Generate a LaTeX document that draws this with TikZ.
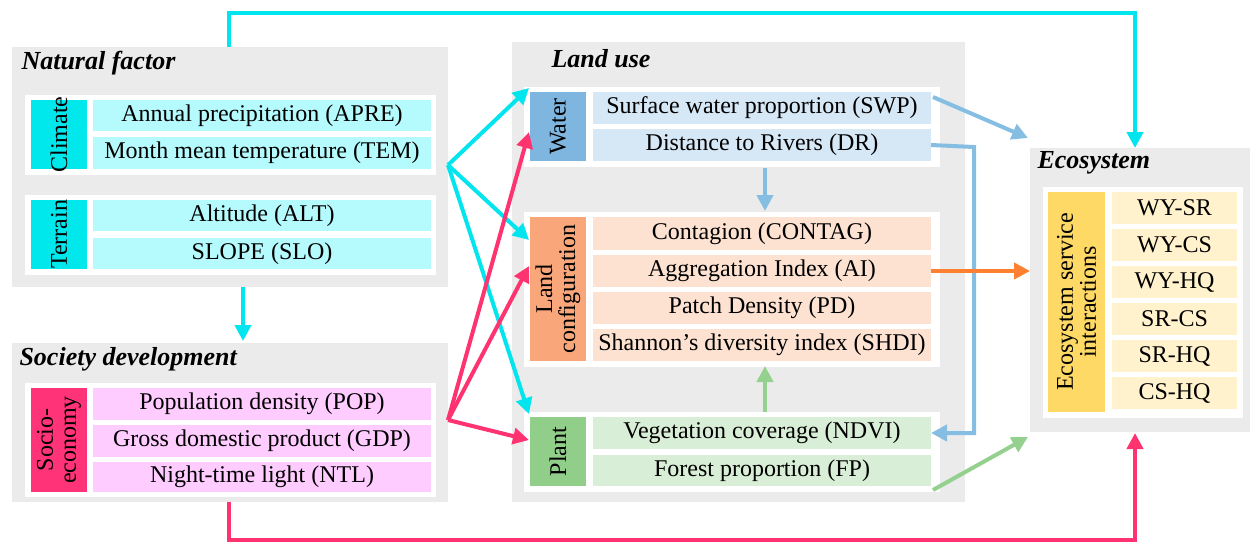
\documentclass[tikz,border=0pt]{standalone}
\usepackage{fontspec}
\setmainfont{Liberation Serif}
\usetikzlibrary{arrows.meta}
\definecolor{gbg}{HTML}{EBEBEB}
\definecolor{cyl}{HTML}{00E8EC}
\definecolor{cyr}{HTML}{B5FAFC}
\definecolor{pkl}{HTML}{FF3378}
\definecolor{pkr}{HTML}{FFCCFF}
\definecolor{bll}{HTML}{7EB6E0}
\definecolor{blr}{HTML}{D6E7F6}
\definecolor{orl}{HTML}{F9A77A}
\definecolor{orr}{HTML}{FDE2D2}
\definecolor{grl}{HTML}{90CE8A}
\definecolor{grr}{HTML}{D9EED6}
\definecolor{yel}{HTML}{FFD966}
\definecolor{yer}{HTML}{FFF2CC}
\definecolor{arcy}{HTML}{00E5EE}
\definecolor{arpk}{HTML}{FF3370}
\definecolor{arbl}{HTML}{86BDE3}
\definecolor{argr}{HTML}{94D08E}
\definecolor{aror}{HTML}{FF8030}
\newcommand\bx[7]{\pgfmathsetmacro\ww{#5-#3}\pgfmathsetmacro\hh{#6-#4}%
\node[#2,minimum width=\ww pt,minimum height=\hh pt,anchor=north west] (#1) at (#3,#4) {#7};}
\begin{document}
\begin{tikzpicture}[x=1pt,y=-1pt,
 box/.style={fill=#1,inner sep=0pt,outer sep=0pt,font=\fontsize{24}{24}\selectfont},
 rt/.style={rotate=90,font=\fontsize{24}{23}\selectfont,align=center},
 ttl/.style={anchor=west,font=\fontsize{26}{28}\selectfont\bfseries\itshape},
 ar/.style={draw=#1,line width=4pt,-{Triangle[length=16pt,width=16pt]}}]
\useasboundingbox (0,0) rectangle (1258,551);
% gray panels
\bx{NF}{box=gbg}{12}{47}{448}{287}{}
\bx{SD}{box=gbg}{12}{343}{448}{502}{}
\bx{LU}{box=gbg}{512}{42}{965}{502}{}
\bx{ES}{box=gbg}{1030}{148}{1250}{432}{}
\node[ttl] (t1) at (18,63) {Natural factor};
\node[ttl] (t2) at (16,359) {Society development};
\node[ttl] (t3) at (548,59) {Land use};
\node[ttl] (t4) at (1034,163) {Ecosystem};
% white groups
\bx{gC}{box=white}{25}{95}{436}{175}{}
\bx{gT}{box=white}{25}{195}{436}{275}{}
\bx{gS}{box=white}{25}{383}{436}{497}{}
\bx{gW}{box=white}{524}{87}{940}{167}{}
\bx{gL}{box=white}{524}{212}{940}{367}{}
\bx{gP}{box=white}{524}{412}{940}{492}{}
\bx{gE}{box=white}{1043}{187}{1243}{418}{}
% labels
\bx{lC}{box=cyl}{31}{100}{87}{169}{}
\node[rt] at (lC) {Climate};
\bx{lT}{box=cyl}{31}{200}{87}{269}{}
\node[rt] at (lT) {Terrain};
\bx{lS}{box=pkl}{31}{388}{87}{492}{}
\node[rt] at (lS) {Socio-\\economy};
\bx{lW}{box=bll}{530}{92}{586}{161}{}
\node[rt] at (lW) {Water};
\bx{lL}{box=orl}{530}{217}{586}{361}{}
\node[rt] at (lL) {Land\\configuration};
\bx{lP}{box=grl}{530}{417}{586}{486}{}
\node[rt] at (lP) {Plant};
\bx{lE}{box=yel}{1048}{192}{1105}{412}{}
\node[rt] at (lE) {Ecosystem service\\interactions};
% rows
\bx{APRE}{box=cyr}{93}{100}{431}{131}{Annual precipitation (APRE)}
\bx{TEM}{box=cyr}{93}{137}{431}{169}{Month mean temperature (TEM)}
\bx{ALT}{box=cyr}{93}{200}{431}{231}{Altitude (ALT)}
\bx{SLO}{box=cyr}{93}{238}{431}{269}{SLOPE (SLO)}
\bx{POP}{box=pkr}{93}{388}{431}{420}{Population density (POP)}
\bx{GDP}{box=pkr}{93}{425}{431}{457}{Gross domestic product (GDP)}
\bx{NTL}{box=pkr}{93}{462}{431}{492}{Night-time light (NTL)}
\bx{SWP}{box=blr}{593}{92}{931}{124}{Surface water proportion (SWP)}
\bx{DR}{box=blr}{593}{129}{931}{161}{Distance to Rivers (DR)}
\bx{CON}{box=orr}{593}{217}{931}{250}{Contagion (CONTAG)}
\bx{AI}{box=orr}{593}{255}{931}{287}{Aggregation Index (AI)}
\bx{PD}{box=orr}{593}{292}{931}{324}{Patch Density (PD)}
\bx{SHDI}{box=orr}{593}{329}{931}{361}{Shannon's diversity index (SHDI)}
\bx{NDVI}{box=grr}{593}{417}{931}{449}{Vegetation coverage (NDVI)}
\bx{FP}{box=grr}{593}{455}{931}{486}{Forest proportion (FP)}
\bx{e1}{box=yer}{1112}{192}{1237}{224}{WY-SR}
\bx{e2}{box=yer}{1112}{229}{1237}{261}{WY-CS}
\bx{e3}{box=yer}{1112}{266}{1237}{298}{WY-HQ}
\bx{e4}{box=yer}{1112}{303}{1237}{335}{SR-CS}
\bx{e5}{box=yer}{1112}{340}{1237}{372}{SR-HQ}
\bx{e6}{box=yer}{1112}{377}{1237}{409}{CS-HQ}
% arrows
\coordinate (cf) at (448,165);
\coordinate (pf) at (448,420);
\draw[ar=arcy] (NF.north west)++(217,0) |- (1135,13) -- (ES.north -| 1135,0);
\draw[ar=arcy] (243,287) -- (243,341);
\draw[ar=arcy] (cf) -- (529,88);
\draw[ar=arcy] (cf) -- (529,240);
\draw[ar=arcy] (cf) -- (529,414);
\draw[ar=arpk] (pf) -- (529,132);
\draw[ar=arpk] (pf) -- (529,266);
\draw[ar=arpk] (pf) -- (529,440);
\draw[ar=arpk] (229,502) |- (1135,540) -- (1135,433);
\draw[ar=arbl] (933,97) -- (1028,138);
\draw[ar=arbl] (DR.east) -- (974,147) |- (NDVI.east);
\draw[ar=arbl] (765,168) -- (765,211);
\draw[ar=argr] (765,412) -- (765,366);
\draw[ar=aror] (AI.east) -- (ES.west |- AI.east);
\draw[ar=argr] (933,490) -- (1028,437);
\end{tikzpicture}
\end{document}
